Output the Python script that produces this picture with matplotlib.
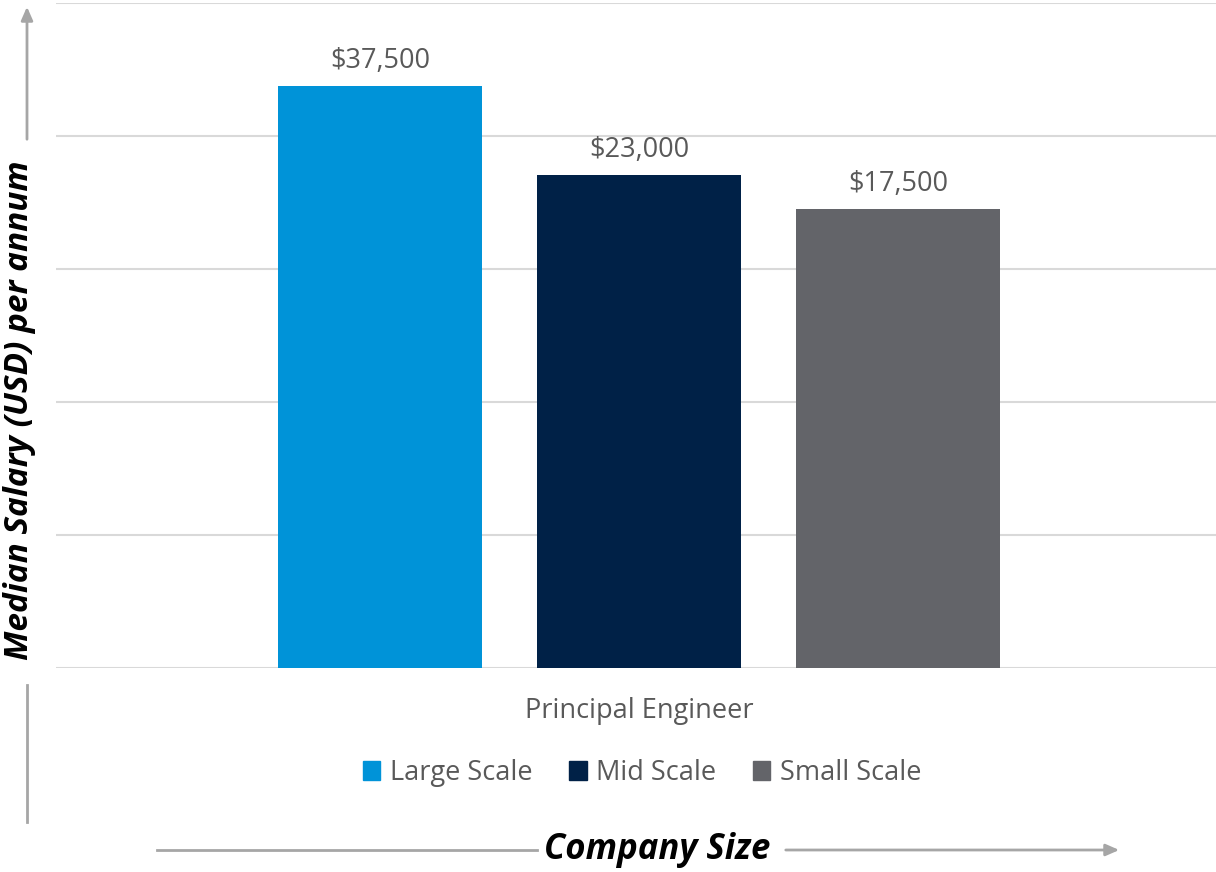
import numpy as np
import matplotlib.pyplot as plt

# Data
category = 'Principal Engineer'
series = ['Large Scale', 'Mid Scale', 'Small Scale']
salaries = [37500, 23000, 17500]
labels = ['$37,500', '$23,000', '$17,500']
colors = ['#0093D8', '#002147', '#636469']

plt.rcParams['font.family'] = ['Open Sans', 'DejaVu Sans']

fig = plt.figure(figsize=(12.16, 8.72), dpi=100)
ax = fig.add_axes([56 / 1216, (872 - 668) / 872, 1160 / 1216, 665 / 872])

# axis range chosen so the bar heights follow the original picture
ymin, ymax = -57300, 51000
ax.set_ylim(ymin, ymax)
ax.set_xlim(-2.251, 2.228)
ax.set_yticks(np.linspace(ymin, ymax, 6))
ax.yaxis.grid(True, color='#D9D9D9', linewidth=1.5)
ax.set_axisbelow(True)
ax.tick_params(left=False, bottom=False, labelleft=False, labelbottom=False)
for s in ax.spines.values():
    s.set_visible(False)

x = np.arange(len(series)) - 1
bars = ax.bar(x, np.array(salaries) - ymin, bottom=ymin, width=0.788,
              color=colors, label=series)
for b, lab in zip(bars, labels):
    ax.annotate(lab, (b.get_x() + b.get_width() / 2, b.get_y() + b.get_height()),
                xytext=(0, 8), textcoords='offset points', ha='center', va='bottom',
                fontsize=19.5, color='#595959')

# category label
fig.text(639 / 1216, 1 - 711 / 872, category, ha='center', va='center',
         fontsize=19.5, color='#595959')

handles = [plt.Rectangle((0, 0), 1, 1, color=c) for c in colors]
fig.legend(handles, series, loc='center', bbox_to_anchor=(642 / 1216, 1 - 773 / 872),
           ncol=3, frameon=False, fontsize=19.5, handlelength=0.65, handleheight=0.65,
           handletextpad=0.35, columnspacing=1.35, labelcolor='#595959')

# overlay for arrows and axis titles
ov = fig.add_axes([0, 0, 1, 1], zorder=-1)
ov.set_xlim(0, 1216)
ov.set_ylim(872, 0)
ov.axis('off')
arrow_c = '#A6A6A6'
ov.annotate('', xy=(27, 4), xytext=(27, 142),
            arrowprops=dict(arrowstyle='-|>,head_width=0.35,head_length=0.8',
                            color=arrow_c, lw=2))
ov.plot([27, 27], [685, 822], color=arrow_c, lw=2)
ov.plot([157, 537], [850, 850], color=arrow_c, lw=2)
ov.annotate('', xy=(1122, 850), xytext=(783, 850),
            arrowprops=dict(arrowstyle='-|>,head_width=0.35,head_length=0.8',
                            color=arrow_c, lw=2))
ov.text(20, 410, 'Median Salary (USD) per annum', rotation=90, ha='center', va='center',
        fontsize=24, fontweight='bold', fontstyle='italic', color='black')
ov.text(657, 850, 'Company Size', ha='center', va='center',
        fontsize=25, fontweight='bold', fontstyle='italic', color='black')

fig.savefig('out.png', dpi=100)
